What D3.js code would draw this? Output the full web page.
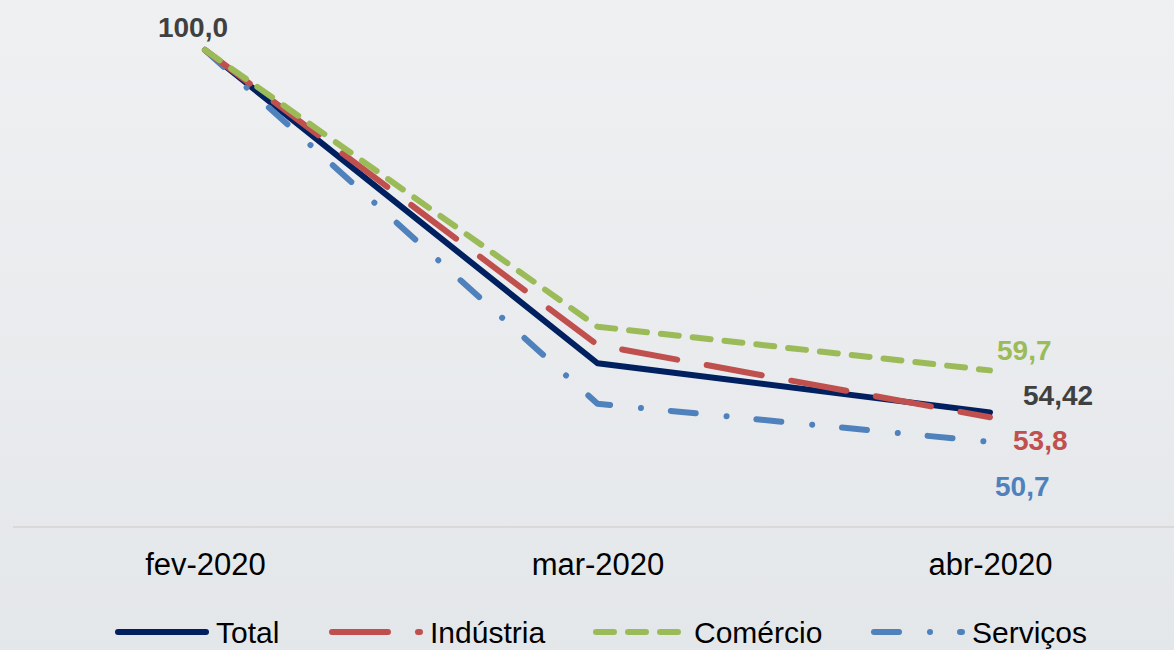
<!DOCTYPE html>
<html><head><meta charset="utf-8">
<script src="https://cdn.jsdelivr.net/npm/d3@7"></script>
<style>html,body{margin:0;padding:0;overflow:hidden;}svg{display:block;}</style>
</head><body>
<svg id="c" width="1174" height="650"></svg>
<script>
const months = ["fev-2020", "mar-2020", "abr-2020"];
const seriesNames = ["Total", "Indústria", "Comércio", "Serviços"];
const total = [100.0, 60.6, 54.42];
const industria = [100.0, 62.9, 53.8];
const comercio = [100.0, 65.2, 59.7];
const servicos = [100.0, 55.5, 50.7];
const endLabels = ["54,42", "53,8", "59,7", "50,7"];
const startLabel = "100,0";

const colors = ["#002060", "#c0504d", "#9bbb59", "#4f81bd"];
const dashes = [null, "56,30", "18,14", "25,31,0.01,30"];
const values = [total, industria, comercio, servicos];

const svg = d3.select("#c");
const defs = svg.append("defs");
const grad = defs.append("linearGradient").attr("id","bg").attr("x1",0).attr("y1",0).attr("x2",0).attr("y2",1);
grad.append("stop").attr("offset","0%").attr("stop-color","#eff0f2");
grad.append("stop").attr("offset","100%").attr("stop-color","#e4e7ea");
svg.append("rect").attr("width",1174).attr("height",650).attr("fill","url(#bg)");

const x = d3.scalePoint().domain(months).range([205, 990]);
const y = d3.scaleLinear().domain([40, 100]).range([527, 50]);

// axis line
svg.append("line").attr("x1",13).attr("x2",1174).attr("y1",y(40)).attr("y2",y(40))
  .attr("stroke","#d9d9d9").attr("stroke-width",2);

// x labels
const xAxis = d3.axisBottom(x).tickSize(0).tickPadding(0);
const gx = svg.append("g").attr("transform",`translate(0,${y(40)})`).call(xAxis);
gx.select(".domain").remove();
gx.selectAll("text").attr("dy",null).attr("y",48)
  .attr("font-family","'Liberation Sans', Arial, sans-serif").attr("font-size",31).attr("fill","#000");

const line = d3.line().x((d,i)=>x(months[i])).y(d=>y(d));
const order = [0, 3, 1, 2];
order.forEach(k=>{
  svg.append("path").datum(values[k]).attr("d",line)
    .attr("fill","none").attr("stroke",colors[k]).attr("stroke-width",6)
    .attr("stroke-linecap","round").attr("stroke-linejoin","round")
    .attr("stroke-dasharray",dashes[k]);
});

// labels
const lblFont = "'Liberation Sans', Arial, sans-serif";
svg.append("text").attr("x",x(months[0])-12).attr("y",y(100)-13).attr("text-anchor","middle")
  .attr("font-family",lblFont).attr("font-weight","bold").attr("font-size",28).attr("fill","#404040").text(startLabel);
const endPos = [[1023,405],[1013,450],[997,360],[995,496]];
const endColors = ["#404040", colors[1], colors[2], colors[3]];
endLabels.forEach((t,k)=>{
  svg.append("text").attr("x",endPos[k][0]).attr("y",endPos[k][1])
    .attr("font-family",lblFont).attr("font-weight","bold").attr("font-size",28)
    .attr("fill",endColors[k]).text(t);
});

// legend
const legX = [118, 332, 596, 874];
const legY = 632;
seriesNames.forEach((n,k)=>{
  svg.append("line").attr("x1",legX[k]).attr("x2",legX[k]+88).attr("y1",legY).attr("y2",legY)
    .attr("stroke",colors[k]).attr("stroke-width",6).attr("stroke-linecap","round")
    .attr("stroke-dasharray",k===1 ? "56,30" : dashes[k]);
  svg.append("text").attr("x",legX[k]+98).attr("y",legY+11)
    .attr("font-family",lblFont).attr("font-size",30).attr("fill","#000").text(n);
});
</script>
</body></html>
